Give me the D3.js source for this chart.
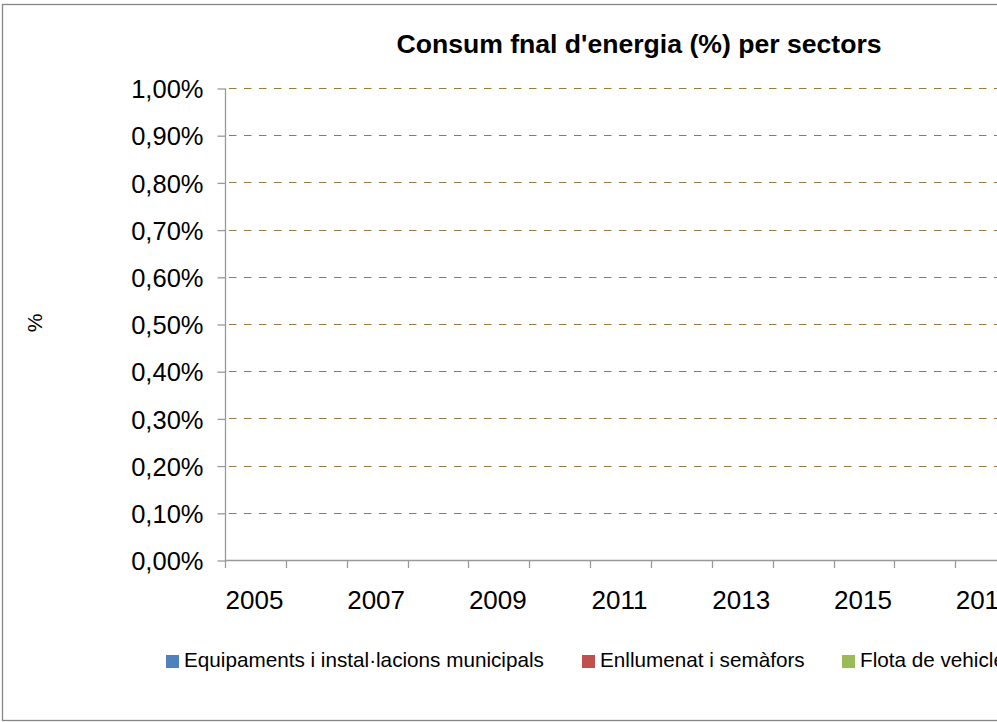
<!DOCTYPE html>
<html>
<head>
<meta charset="utf-8">
<script src="https://cdn.jsdelivr.net/npm/d3@7"></script>
<style>
  html, body { margin: 0; padding: 0; background: #fff; overflow: hidden; }
  svg { display: block; font-family: "Liberation Sans", Arial, sans-serif; }
</style>
</head>
<body>
<svg id="chart" width="997" height="722"></svg>
<script>
// ---- data ----
const title = "Consum fnal d'energia (%) per sectors";
const yAxisTitle = "%";
const categories = ["2005","2006","2007","2008","2009","2010","2011","2012","2013","2014","2015","2016","2017","2018","2019","2020"];
const seriesNames = ["Equipaments i instal·lacions municipals", "Enllumenat i semàfors", "Flota de vehicles municipals"];
const seriesColors = ["#4F81BD", "#C0504D", "#9BBB59"];
// no values are plotted in the reference chart
const equipaments = [null,null,null,null,null,null,null,null,null,null,null,null,null,null,null,null];
const enllumenat  = [null,null,null,null,null,null,null,null,null,null,null,null,null,null,null,null];
const flota       = [null,null,null,null,null,null,null,null,null,null,null,null,null,null,null,null];
const yTicks = [0,0.001,0.002,0.003,0.004,0.005,0.006,0.007,0.008,0.009,0.01];

// ---- layout ----
const svg = d3.select("#chart");
const pLeft = 225, pTop = 88, pBottom = 560, bandStep = 60.85;
const pRight = pLeft + bandStep * categories.length;

const locale = d3.formatLocale({decimal: ",", thousands: ".", grouping: [3], currency: ["", "€"], percent: "%"});
const fmt = locale.format(".2%");

const x = d3.scaleBand().domain(categories).range([pLeft, pRight]).paddingInner(0.3).paddingOuter(0.15);
const xb = d3.scaleBand().domain(categories).range([pLeft, pRight]);
const y = d3.scaleLinear().domain([0, 0.01]).range([pBottom, pTop]);

// chart border
svg.append("rect").attr("x", 2.5).attr("y", 4.5).attr("width", 1100).attr("height", 716)
  .attr("fill", "#fff").attr("stroke", "#868686").attr("stroke-width", 1.3);

// title
svg.append("text").attr("x", 639).attr("y", 53).attr("text-anchor", "middle")
  .attr("font-weight", "bold").attr("font-size", 26.6).attr("fill", "#000").text(title);

// gridlines
svg.append("g").selectAll("line").data(yTicks.filter(d => d > 0)).join("line")
  .attr("x1", pLeft).attr("x2", pRight)
  .attr("y1", d => Math.round(y(d)) + 0.5).attr("y2", d => Math.round(y(d)) + 0.5)
  .attr("stroke", "#967A3E").attr("stroke-width", 1).attr("stroke-dasharray", "7.5,7.5")
  .attr("stroke-dashoffset", -4);

// y axis
const yAxis = d3.axisLeft(y).tickValues(yTicks).tickFormat(fmt).tickSize(8).tickPadding(14);
const gy = svg.append("g").attr("transform", `translate(${pLeft + 0.5},0.5)`).call(yAxis);
gy.select(".domain").attr("stroke", "#999").attr("stroke-width", 1.3).attr("d", `M0,${pTop}V${pBottom}`);
gy.selectAll(".tick line").attr("stroke", "#999").attr("stroke-width", 1.3);
gy.selectAll(".tick text").attr("font-size", 25.5).attr("fill", "#000").attr("dy", "0.36em")
  .attr("font-family", "Liberation Sans, Arial, sans-serif");

// x axis (Excel-style: ticks between categories, label every other category)
const gx = svg.append("g");
gx.append("line").attr("x1", pLeft).attr("x2", pRight).attr("y1", pBottom + 0.5).attr("y2", pBottom + 0.5)
  .attr("stroke", "#999").attr("stroke-width", 1.3);
const boundaries = categories.map(c => xb(c)).concat([pRight]);
gx.selectAll("line.tk").data(boundaries).join("line").attr("class", "tk")
  .attr("x1", d => Math.round(d) + 0.5).attr("x2", d => Math.round(d) + 0.5)
  .attr("y1", pBottom).attr("y2", pBottom + 8).attr("stroke", "#999").attr("stroke-width", 1.3);
gx.selectAll("text").data(categories.filter((c, i) => i % 2 === 0)).join("text")
  .attr("x", d => xb(d) + xb.bandwidth() / 2 - 1).attr("y", 609)
  .attr("text-anchor", "middle").attr("font-size", 26).attr("fill", "#000").text(d => d);

// y axis title
svg.append("text").attr("transform", "translate(42,323) rotate(-90)")
  .attr("text-anchor", "middle").attr("font-size", 21).attr("fill", "#000").text(yAxisTitle);

// bars (no data in the reference)
const allSeries = [equipaments, enllumenat, flota];
const xs = d3.scaleBand().domain(seriesNames).range([0, x.bandwidth()]);
allSeries.forEach((vals, si) => {
  svg.append("g").selectAll("rect")
    .data(categories.map((c, i) => ({c, v: vals[i]})).filter(d => d.v != null))
    .join("rect")
    .attr("x", d => x(d.c) + xs(seriesNames[si])).attr("width", xs.bandwidth())
    .attr("y", d => y(d.v)).attr("height", d => y(0) - y(d.v))
    .attr("fill", seriesColors[si]);
});

// legend
const legendX = [166, 582, 842];
const lg = svg.append("g");
seriesNames.forEach((n, i) => {
  lg.append("rect").attr("x", legendX[i]).attr("y", 655).attr("width", 13).attr("height", 13).attr("fill", seriesColors[i]);
  lg.append("text").attr("x", legendX[i] + 18).attr("y", 667).attr("font-size", 20.7).attr("fill", "#000").text(n);
});
</script>
</body>
</html>
